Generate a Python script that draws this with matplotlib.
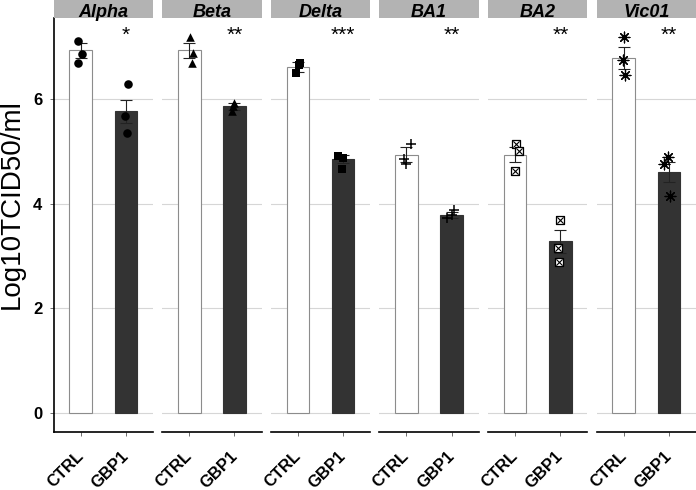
import numpy as np
import matplotlib
matplotlib.use('Agg')
import matplotlib.pyplot as plt
import matplotlib.transforms as mtransforms

plt.rcParams['font.family'] = ['Liberation Sans', 'DejaVu Sans']

variants = ['Alpha', 'Beta', 'Delta', 'BA1', 'BA2', 'Vic01']
groups = ['CTRL', 'GBP1']
stars = ['*', '**', '***', '**', '**', '**']

# bar heights (mean) and sem
ctrl_mean = [6.93, 6.93, 6.61, 4.94, 4.94, 6.78]
gbp1_mean = [5.77, 5.86, 4.86, 3.79, 3.28, 4.61]
ctrl_sem = [0.15, 0.15, 0.09, 0.14, 0.15, 0.21]
gbp1_sem = [0.22, 0.07, 0.08, 0.06, 0.22, 0.19]

# single replicates per variant [ctrl, gbp1]
ctrl_pts = [[7.11, 6.86, 6.69], [7.18, 6.88, 6.69], [6.69, 6.65, 6.50],
            [5.14, 4.85, 4.77], [5.14, 5.01, 4.63], [7.18, 6.74, 6.46]]
gbp1_pts = [[6.29, 5.67, 5.35], [5.92, 5.86, 5.78], [4.92, 4.88, 4.67],
            [3.88, 3.72, 3.78], [3.70, 3.15, 2.89], [4.90, 4.76, 4.15]]
ctrl_jit = [[-0.05, 0.04, -0.06], [0.01, 0.08, 0.06], [0.05, 0.02, -0.04],
            [0.11, -0.05, -0.01], [0.03, 0.08, 0.01], [0.01, -0.02, 0.04]]
gbp1_jit = [[0.04, -0.03, 0.03], [0.0, -0.03, -0.05], [-0.11, 0.0, -0.03],
            [0.05, -0.1, 0.0], [0.0, -0.05, -0.02], [-0.03, -0.1, 0.03]]

W, H = 696, 490
fig = plt.figure(figsize=(W / 100, H / 100), dpi=100)

left0, step, pw = 53.5, 108.6, 99.5
top, bottom, strip_h = 18, 432, 18

markers = ['o', '^', 's', '+', 's', (8, 2, 0)]


def draw_pts(ax, x, ys, jit, i):
    xs = [x + j for j in jit]
    if i == 3:
        ax.scatter(xs, ys, marker='+', s=55, color='black', linewidths=1.1, zorder=4)
    elif i == 4:
        # square with a cross, like ggplot shape 7
        ax.scatter(xs, ys, marker='s', s=38, facecolor='white', edgecolor='black', linewidths=0.9, zorder=4)
        ax.scatter(xs, ys, marker='x', s=20, color='black', linewidths=0.8, zorder=5)
    elif i == 5:
        ax.scatter(xs, ys, marker=(8, 2, 0), s=60, color='black', linewidths=0.9, zorder=4)
    else:
        ax.scatter(xs, ys, marker=markers[i], s=38, color='black', linewidths=0, zorder=4)


shift = mtransforms.ScaledTranslation(-5 / 100, 0, fig.dpi_scale_trans)

for i, v in enumerate(variants):
    l = left0 + i * step
    ax = fig.add_axes([l / W, (H - bottom) / H, pw / W, (bottom - top) / H])
    ax.set_xlim(0.4, 2.6)
    ax.set_ylim(-0.36, 7.55)
    for g in [0, 2, 4, 6]:
        ax.axhline(g, color='#d6d6d6', lw=0.8, zorder=0)

    ax.bar([1], [ctrl_mean[i]], width=0.5, color='white', edgecolor='#8c8c8c', lw=0.8, zorder=2)
    ax.bar([2], [gbp1_mean[i]], width=0.5, color='#333333', edgecolor='#333333', lw=0.8, zorder=2)
    ax.errorbar([1, 2], [ctrl_mean[i], gbp1_mean[i]], yerr=[ctrl_sem[i], gbp1_sem[i]],
                fmt='none', ecolor='#222222', elinewidth=0.8, capsize=4, capthick=0.8, zorder=3)

    draw_pts(ax, 1, ctrl_pts[i], ctrl_jit[i], i)
    draw_pts(ax, 2, gbp1_pts[i], gbp1_jit[i], i)

    ax.text(2, 7.22, stars[i], ha='center', va='center', fontsize=15)

    for s in ['top', 'right', 'left']:
        ax.spines[s].set_visible(False)
    ax.spines['bottom'].set_linewidth(1.2)
    ax.set_xticks([1, 2])
    ax.set_xticklabels(groups, rotation=45, ha='right', rotation_mode='anchor',
                       fontsize=12, fontweight='bold')
    ax.tick_params(axis='x', length=3, width=0.6, color='#555555', pad=9)
    for lab in ax.get_xticklabels():
        lab.set_transform(lab.get_transform() + shift)
    if i == 0:
        ax.spines['left'].set_visible(True)
        ax.spines['left'].set_linewidth(1.2)
        ax.set_yticks([0, 2, 4, 6])
        ax.set_yticklabels(['0', '2', '4', '6'], fontsize=12, fontweight='bold')
        ax.tick_params(axis='y', length=3, width=0.6, color='#555555', pad=5)
        ax.set_ylabel('Log10TCID50/ml', fontsize=20)
        ax.yaxis.set_label_coords(-0.29, 0.55)
    else:
        ax.set_yticks([])

    # strip header
    sax = fig.add_axes([l / W, (H - strip_h) / H, pw / W, strip_h / H])
    sax.set_facecolor('#b3b3b3')
    sax.set_xticks([])
    sax.set_yticks([])
    for s in sax.spines.values():
        s.set_visible(False)
    sax.text(0.5, 0.06, v, ha='center', va='baseline', fontsize=13,
             fontweight='bold', fontstyle='italic', transform=sax.transAxes, clip_on=False)

fig.savefig('out.png', dpi=100)
